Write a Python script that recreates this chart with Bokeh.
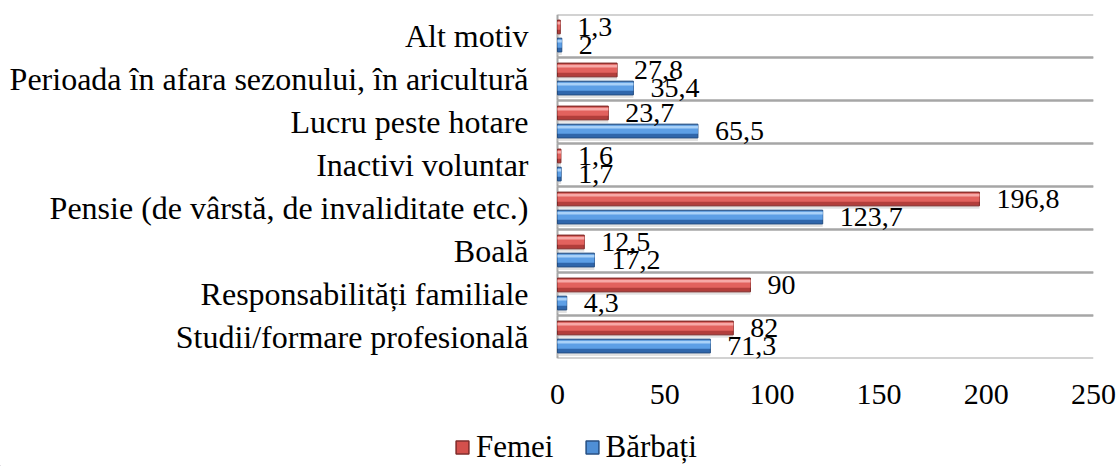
from bokeh.plotting import figure
from bokeh.models import (FactorRange, Range1d, ColumnDataSource, FixedTicker,
                          Legend, LegendItem)
from bokeh.transform import dodge
from bokeh.layouts import column
from bokeh.core.properties import value
from bokeh.embed import file_html
from bokeh.resources import INLINE

# ---------------- data ----------------
categories = [
    "Alt motiv",
    "Perioada în afara sezonului, în aricultură",
    "Lucru peste hotare",
    "Inactivi voluntar",
    "Pensie (de vârstă, de invaliditate etc.)",
    "Boală",
    "Responsabilități familiale",
    "Studii/formare profesională",
]
femei = [1.3, 27.8, 23.7, 1.6, 196.8, 12.5, 90, 82]
barbati = [2, 35.4, 65.5, 1.7, 123.7, 17.2, 4.3, 71.3]
x_ticks = [0, 50, 100, 150, 200, 250]
series_names = ["Femei", "Bărbați"]


def fmt(v):
    return f"{v:g}".replace(".", ",")


FONT = "Liberation Serif"
W = 1116
RIGHT = 1093          # pixel where the value axis ends
LEFT0 = 557           # pixel where the value 0 sits
scale = (RIGHT - LEFT0) / (x_ticks[-1] - x_ticks[0])

p = figure(
    width=W, height=420,
    y_range=FactorRange(*reversed(categories)),
    x_range=Range1d(x_ticks[0] - LEFT0 / scale, x_ticks[-1]),
    output_backend="svg", toolbar_location=None,
    y_axis_location=None,
    min_border_left=0, min_border_right=W - RIGHT,
    min_border_top=14, min_border_bottom=62,
)
p.outline_line_color = None
p.xgrid.visible = False
p.ygrid.visible = False
p.background_fill_color = "white"
p.border_fill_color = "white"

src = ColumnDataSource(dict(
    cat=categories,
    femei=femei,
    barbati=barbati,
    fl=[fmt(v) for v in femei],
    bl=[fmt(v) for v in barbati],
    zero=[x_ticks[0]] * len(categories),
    xmax=[x_ticks[-1]] * len(categories),
))

# gridlines at category boundaries
for off in (0.5, -0.5):
    p.segment(x0="zero", x1="xmax", y0=dodge("cat", off, range=p.y_range),
              y1=dodge("cat", off, range=p.y_range), source=src,
              line_color="#a6a6a6", line_width=2)
# left wall
p.segment(x0="zero", x1="zero", y0=dodge("cat", 0.5, range=p.y_range),
          y1=dodge("cat", -0.5, range=p.y_range), source=src,
          line_color="#a6a6a6", line_width=2)

# category labels
p.text(x="zero", y="cat", text="cat", source=src, x_offset=-29,
       text_align="right", text_baseline="middle",
       text_font=value(FONT), text_font_size="32px", text_color="black")

H = 0.32
styles = {
    "femei": dict(off=0.21, dark="#b23e3b", edge="#7f2a28", mid="#e2625e", light="#f7a9a7"),
    "barbati": dict(off=-0.21, dark="#2f66ab", edge="#244e82", mid="#5d9fe6", light="#a9d1f8"),
}
for key, st in styles.items():
    off = st["off"]
    # soft shadow
    p.hbar(y=dodge("cat", off - 0.07, range=p.y_range), right=key, left=0, height=H,
           source=src, fill_color="#cfcfcf", fill_alpha=0.6, line_color=None)
    p.hbar(y=dodge("cat", off, range=p.y_range), right=key, left=0, height=H,
           source=src, fill_color=st["dark"], line_color=st["edge"], line_width=1)
    p.hbar(y=dodge("cat", off + 0.035, range=p.y_range), right=key, left=0, height=0.2,
           source=src, fill_color=st["mid"], line_color=None)
    p.hbar(y=dodge("cat", off + 0.09, range=p.y_range), right=key, left=0, height=0.06,
           source=src, fill_color=st["light"], line_color=None)

# data labels
for key, lab in (("femei", "fl"), ("barbati", "bl")):
    p.text(x=key, y=dodge("cat", styles[key]["off"], range=p.y_range), text=lab,
           source=src, x_offset=17, text_baseline="middle", text_align="left",
           text_font=value(FONT), text_font_size="28px", text_color="black")

# value axis
p.xaxis.ticker = FixedTicker(ticks=x_ticks)
p.xaxis.axis_line_color = None
p.xaxis.major_tick_line_color = None
p.xaxis.minor_tick_line_color = None
p.xaxis.major_label_text_font = FONT
p.xaxis.major_label_text_font_size = "30px"
p.xaxis.major_label_text_color = "black"
p.xaxis.major_label_standoff = 20

# ---------------- legend strip ----------------
lg = figure(width=W, height=46, x_range=Range1d(0, 1), y_range=Range1d(0, 1),
            output_backend="svg", toolbar_location=None,
            x_axis_type=None, y_axis_type=None,
            min_border_left=0, min_border_right=W - RIGHT,
            min_border_top=0, min_border_bottom=0)
lg.outline_line_color = None
lg.xgrid.visible = False
lg.ygrid.visible = False
lg.background_fill_color = "white"
lg.border_fill_color = "white"
# legend swatch renderers only (kept far outside the visible range)
r_f = lg.hbar(y=[-50], left=[-50], right=[-49], height=0.5,
              fill_color="#d4504c", line_color="#7f2a28", line_width=1.5)
r_b = lg.hbar(y=[-50], left=[-50], right=[-49], height=0.5,
              fill_color="#4f8fd6", line_color="#244e82", line_width=1.5)
legend = Legend(
    items=[LegendItem(label=series_names[0], renderers=[r_f]),
           LegendItem(label=series_names[1], renderers=[r_b])],
    orientation="horizontal",
    location=(454, 1),
    glyph_width=16, glyph_height=16,
    label_text_font=FONT, label_text_font_size="31px", label_text_color="black",
    label_standoff=6, spacing=30, padding=0, margin=0,
    border_line_color=None, background_fill_alpha=0,
)
lg.add_layout(legend)

layout = column(p, lg, spacing=0)
open("out.html", "w").write(file_html(layout, INLINE))
